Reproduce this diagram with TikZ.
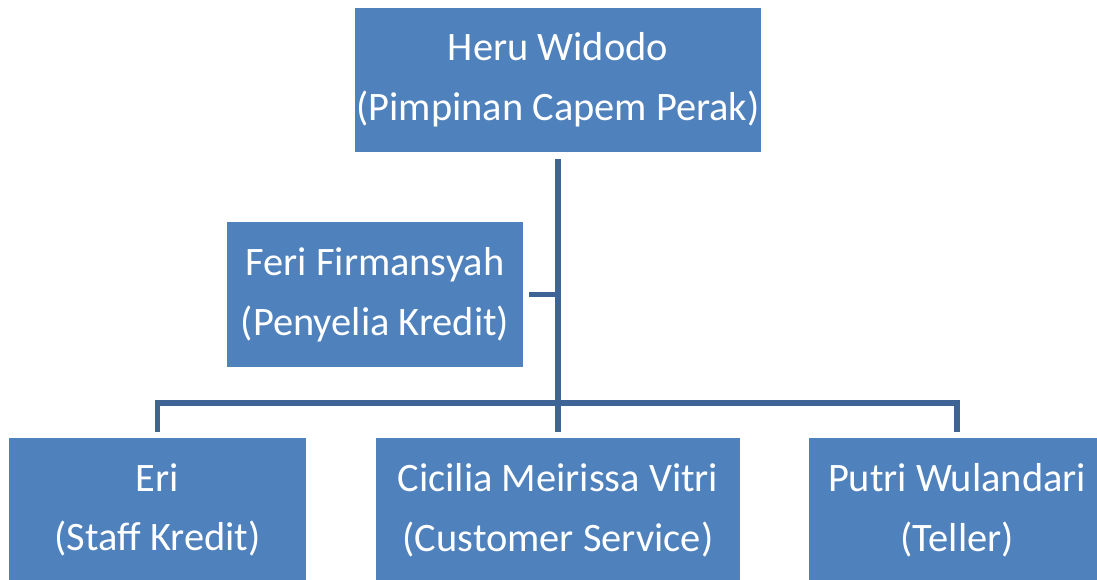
\documentclass[tikz,border=0pt]{standalone}
\usepackage{fontspec}
\setmainfont{Carlito}
\usepackage{tikz}
\definecolor{boxblue}{HTML}{4F81BD}
\definecolor{lineblue}{HTML}{3D6494}
\tikzset{
  unit/.style={rectangle,fill=boxblue,draw=none,text=white,align=center,
    font=\fontsize{23}{34}\selectfont,inner sep=0pt,minimum height=2.9cm},
  link/.style={line width=0.11cm,draw=lineblue}
}

\begin{document}
\begin{tikzpicture}[x=0.02cm,y=-0.02cm]
      \useasboundingbox (0,0) rectangle (1097,579);
      \clip (0,0) rectangle (1097,579);
      \node[unit,minimum width=8.12cm] (heru) at (558,80) {Heru Widodo\\(Pimpinan Capem Perak)};
      \node[unit,minimum width=5.92cm] (feri) at (375,294.5) {Feri Firmansyah\\(Penyelia Kredit)};
      \node[unit,minimum width=5.94cm] (eri) at (157.5,510) {Eri\\(Staff Kredit)};
      \node[unit,minimum width=7.28cm] (cicilia) at (558,510) {Cicilia Meirissa Vitri\\(Customer Service)};
      \node[unit,minimum width=5.92cm] (putri) at (957,510) {Putri Wulandari\\(Teller)};
      \coordinate (bar) at (558,403);
      % connectors
      \draw[link] ([yshift=-0.12cm]heru.south) -- ([yshift=0.1cm]cicilia.north);
      \draw[link] ([xshift=0.12cm]feri.east) -- (feri.east -| heru.south);
      \draw[link] ([yshift=0.1cm]eri.north) |- (bar) -| ([yshift=0.1cm]putri.north);
\end{tikzpicture}
\end{document}
